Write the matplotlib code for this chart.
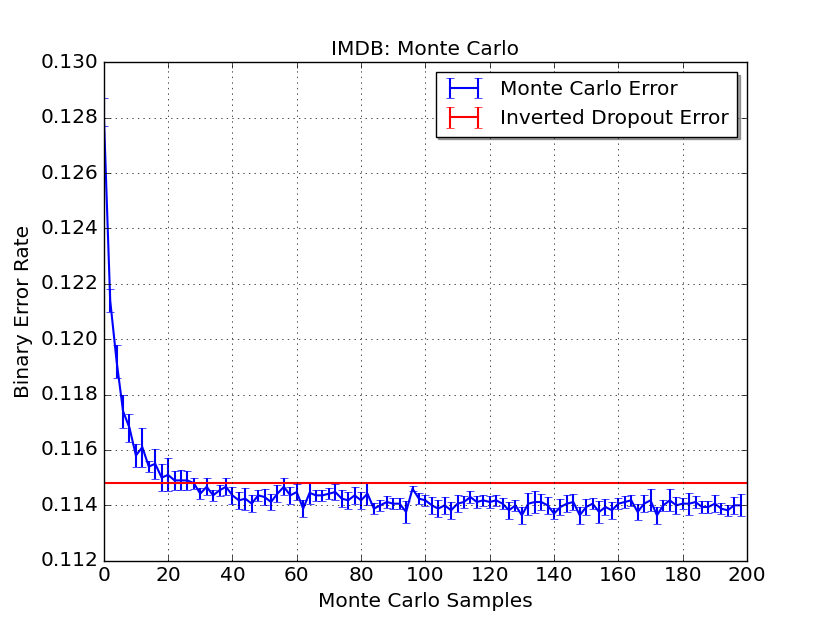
import matplotlib
matplotlib.use('Agg')
import matplotlib.pyplot as plt

# Monte Carlo 樣本數 vs 錯誤率
samples = list(range(0, 200, 2))
mc_error = [0.1282, 0.1214, 0.1192, 0.1174, 0.1168, 0.1158, 0.1161, 0.1154, 0.1155, 0.1150,
            0.1151, 0.1149, 0.1149, 0.1149, 0.1148, 0.11442, 0.11467, 0.11436, 0.11454, 0.11467,
            0.11436, 0.11418, 0.11424, 0.11406, 0.11436, 0.11430, 0.11412, 0.11442, 0.11467, 0.11436,
            0.11448, 0.11388, 0.11445, 0.11436, 0.11436, 0.11442, 0.11448, 0.11424, 0.11418, 0.11436,
            0.11418, 0.11442, 0.11388, 0.11400, 0.11412, 0.11406, 0.11406, 0.11376, 0.11460, 0.11424,
            0.11418, 0.11400, 0.11388, 0.11400, 0.11382, 0.11406, 0.11412, 0.11430, 0.11412, 0.11418,
            0.11412, 0.11418, 0.11406, 0.11382, 0.11400, 0.11364, 0.11406, 0.11412, 0.11412, 0.11400,
            0.11370, 0.11394, 0.11406, 0.11412, 0.11364, 0.11394, 0.11406, 0.11376, 0.11394, 0.11382,
            0.11406, 0.11412, 0.11418, 0.11376, 0.11406, 0.11418, 0.11364, 0.11400, 0.11418, 0.11400,
            0.11406, 0.11406, 0.11412, 0.11394, 0.11394, 0.11406, 0.11388, 0.11382, 0.11400, 0.11400]
mc_std = [0.0005, 0.00043, 0.0006, 0.0006, 0.0005, 0.0004, 0.0007, 0.0002, 0.00055, 0.0005,
          0.0006, 0.00033, 0.00036, 0.00033, 0.0002, 0.0002, 0.0003, 0.0002, 0.0002, 0.0003,
          0.0003, 0.0003, 0.0004, 0.0003, 0.0002, 0.0003, 0.0003, 0.0003, 0.0003, 0.0003,
          0.0003, 0.0003, 0.0004, 0.0002, 0.0002, 0.0002, 0.0003, 0.0003, 0.0003, 0.0003,
          0.0003, 0.0004, 0.0002, 0.0002, 0.0002, 0.0002, 0.0002, 0.0004, 0.0001, 0.0002,
          0.0002, 0.0003, 0.0003, 0.0003, 0.0003, 0.0003, 0.0002, 0.0002, 0.0002, 0.0002,
          0.0002, 0.0002, 0.0002, 0.0003, 0.0002, 0.0003, 0.0004, 0.0004, 0.0003, 0.0003,
          0.0002, 0.0003, 0.0003, 0.0003, 0.0003, 0.0003, 0.0002, 0.0004, 0.0003, 0.0003,
          0.0002, 0.0002, 0.0002, 0.0003, 0.0003, 0.0004, 0.0003, 0.0002, 0.0004, 0.0003,
          0.0002, 0.0004, 0.0002, 0.0002, 0.0002, 0.0003, 0.0002, 0.0002, 0.0003, 0.0004]

dropout_x = [0, 200]
dropout_error = [0.1148, 0.1148]
dropout_std = [0.0, 0.0]

plt.style.use('classic')
plt.rcParams['font.size'] = 14.5
plt.rcParams['font.family'] = ['DejaVu Sans']

fig = plt.figure(figsize=(8.3, 6.23), dpi=100)
ax = fig.add_subplot(111)
ax.errorbar(samples, mc_error, yerr=mc_std, color='b', ecolor='b', lw=1.5, capsize=3,
            label='Monte Carlo Error')
ax.errorbar(dropout_x, dropout_error, yerr=dropout_std, color='r', ecolor='r', lw=1.5, capsize=3,
            label='Inverted Dropout Error')
ax.set_xlim(0, 200)
ax.set_ylim(0.112, 0.130)
ax.set_xticks(range(0, 201, 20))
ax.set_title('IMDB: Monte Carlo', fontsize=14.5)
ax.set_xlabel('Monte Carlo Samples', fontsize=14.5)
ax.set_ylabel('Binary Error Rate', fontsize=14.5)
ax.grid(True)
ax.legend(loc='upper right', shadow=True, fontsize=14.5)
fig.savefig('out.png', dpi=100)
